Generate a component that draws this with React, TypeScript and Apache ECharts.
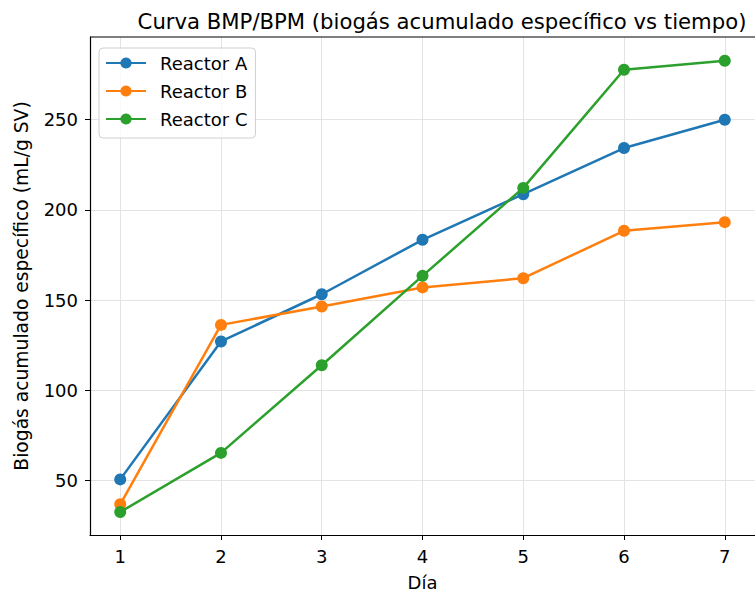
import React, { useEffect, useRef } from "react";
import * as echarts from "echarts";

const days = [1, 2, 3, 4, 5, 6, 7];
const reactorA = [50.5, 127.0, 153.2, 183.4, 208.7, 234.3, 250.0];
const reactorB = [36.7, 136.2, 146.4, 157.0, 162.1, 188.4, 193.2];
const reactorC = [32.4, 65.2, 113.8, 163.4, 212.2, 277.7, 282.7];
const yTicks = [50, 100, 150, 200, 250];
const seriesNames = ["Reactor A", "Reactor B", "Reactor C"];
const colors = ["#1f77b4", "#ff7f0e", "#2ca02c"];

const FONT = "DejaVu Sans";

export default function App() {
  const ref = useRef<HTMLDivElement>(null);
  useEffect(() => {
    if (!ref.current) return;
    const chart = echarts.init(ref.current, undefined, { renderer: "svg" });
    const allData = [reactorA, reactorB, reactorC];
    const mk = (i: number) => ({
      name: seriesNames[i],
      type: "line",
      data: days.map((d, j) => [d, allData[i][j]]),
      color: colors[i],
      symbol: "circle",
      symbolSize: 12,
      lineStyle: { width: 2.5, color: colors[i] },
      itemStyle: { color: colors[i] },
      z: 3 + i,
    });
    chart.setOption({
      animation: false,
      backgroundColor: "#ffffff",
      textStyle: { fontFamily: FONT },
      title: {
        text: "Curva BMP/BPM (biogás acumulado específico vs tiempo)",
        left: 437,
        top: 6,
        textAlign: "center",
        textStyle: { fontFamily: FONT, fontSize: 21.2, fontWeight: "normal", color: "#000" },
      },
      legend: {
        orient: "vertical",
        left: 99,
        top: 48,
        padding: [6, 8, 10, 6],
        itemGap: 10,
        itemWidth: 40,
        itemHeight: 14,
        borderColor: "#d0d0d0",
        borderWidth: 1,
        borderRadius: 4,
        backgroundColor: "rgba(255,255,255,0.8)",
        textStyle: { fontFamily: FONT, fontSize: 18, lineHeight: 18, color: "#000", padding: [0, 0, 0, 9] },
        data: seriesNames,
      },
      grid: { left: 90, right: -1, top: 37, bottom: 66, containLabel: false },
      xAxis: {
        type: "value",
        min: 0.7,
        max: 7.3,
        name: "Día",
        nameLocation: "middle",
        nameGap: 38,
        nameTextStyle: { fontFamily: FONT, fontSize: 18, color: "#000" },
        axisLine: { show: true, lineStyle: { color: "#000", width: 1.2 } },
        axisTick: { show: true, length: 5, customValues: days, lineStyle: { color: "#000" } },
        axisLabel: { customValues: days, fontFamily: FONT, fontSize: 18, color: "#000", margin: 12 },
        splitLine: { show: true, lineStyle: { color: "#e3e3e3", width: 1 } },
      },
      yAxis: {
        type: "value",
        min: 19.65,
        max: 295.9,
        name: "Biogás acumulado específico (mL/g SV)",
        nameLocation: "middle",
        nameGap: 59,
        nameTextStyle: { fontFamily: FONT, fontSize: 18.7, color: "#000" },
        axisLine: { show: true, lineStyle: { color: "#000", width: 1.2 } },
        axisTick: { show: true, length: 5, customValues: yTicks, lineStyle: { color: "#000" } },
        axisLabel: { customValues: yTicks, fontFamily: FONT, fontSize: 18, color: "#000", margin: 12 },
        splitLine: { show: true, lineStyle: { color: "#e3e3e3", width: 1 } },
      },
      series: [0, 1, 2].map(mk),
      graphic: [
        {
          type: "line",
          shape: { x1: 90, y1: 37, x2: 755, y2: 37 },
          style: { stroke: "#000", lineWidth: 1.2 },
          z: 10,
        },
      ],
    });
    return () => chart.dispose();
  }, []);
  return (
    <div
      ref={ref}
      style={{ position: "fixed", left: 0, top: 0, width: 755, height: 601 }}
    />
  );
}
